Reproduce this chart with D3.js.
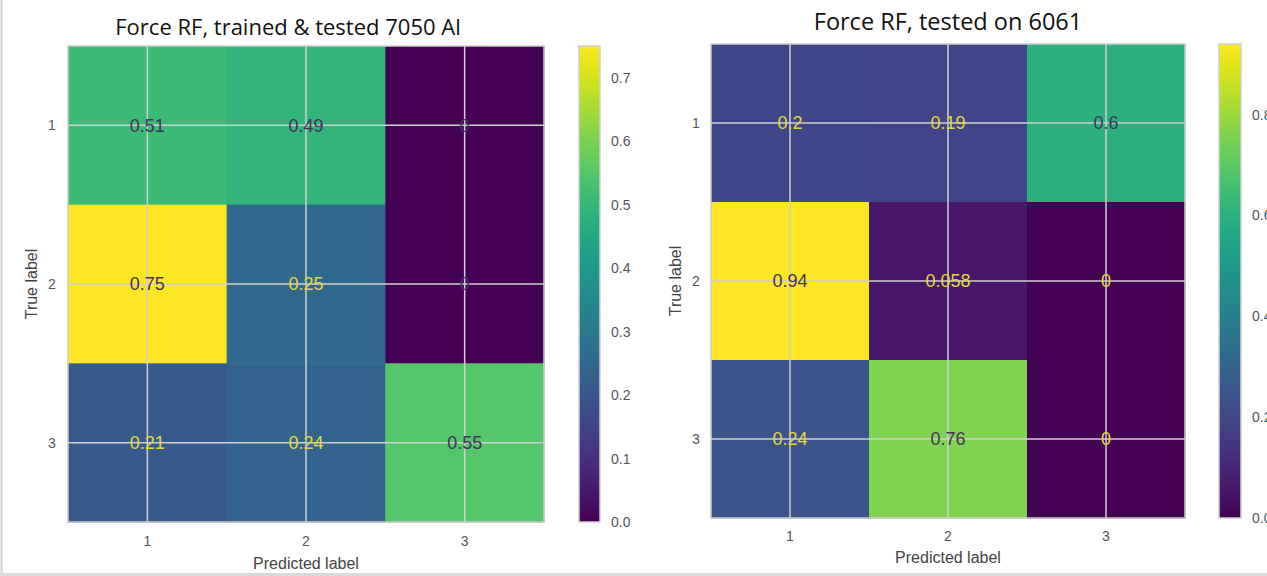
<!DOCTYPE html>
<html>
<head>
<meta charset="utf-8">
<script src="https://cdn.jsdelivr.net/npm/d3@7"></script>
<style>
  html, body { margin: 0; padding: 0; background: #fff; }
  svg { display: block; }
</style>
</head>
<body>
<svg id="chart" width="1267" height="576"></svg>
<script>
// Class labels shared by both confusion matrices
const classLabels = ["1", "2", "3"];

// Row-normalised confusion matrix: model trained & tested on 7050 Al
const matrix7050 = [
  [0.51, 0.49, 0],
  [0.75, 0.25, 0],
  [0.21, 0.24, 0.55]
];
const labels7050 = [
  ["0.51", "0.49", "0"],
  ["0.75", "0.25", "0"],
  ["0.21", "0.24", "0.55"]
];
const colorbarTicks7050 = [0.0, 0.1, 0.2, 0.3, 0.4, 0.5, 0.6, 0.7];

// Same model evaluated on 6061
const matrix6061 = [
  [0.2, 0.19, 0.6],
  [0.94, 0.058, 0],
  [0.24, 0.76, 0]
];
const labels6061 = [
  ["0.2", "0.19", "0.6"],
  ["0.94", "0.058", "0"],
  ["0.24", "0.76", "0"]
];
const colorbarTicks6061 = [0.0, 0.2, 0.4, 0.6, 0.8];

const titles = ["Force RF, trained & tested 7050 Al", "Force RF, tested on 6061"];

const svg = d3.select("#chart");
const FONT = "'Liberation Sans', Arial, sans-serif";
const TITLE_FONT = "'Open Sans', 'Noto Sans', sans-serif";
const DARK_TEXT = "#46305e";
const LIGHT_TEXT = "#e3d83a";

// outer frame of the figure
svg.append("rect").attr("x", 0).attr("y", 0).attr("width", 1267).attr("height", 576).attr("fill", "#fff");
svg.append("line").attr("x1", 1.5).attr("x2", 1.5).attr("y1", 0).attr("y2", 576)
  .attr("stroke", "#d2d2d2").attr("stroke-width", 2);
svg.append("rect").attr("x", 0).attr("y", 573).attr("width", 1267).attr("height", 3).attr("fill", "#d9d9d9");

let gradId = 0;

function drawPanel(cfg) {
  const { matrix, labels, ticks, title, titleSize, titleX, x0, y0, size, cbX, cbW, titleY, xTickY, xLabelY, yTickX, yLabelX, darkZeros } = cfg;
  const g = svg.append("g");
  const vmax = d3.max(matrix.flat());
  const vmin = d3.min(matrix.flat());
  const color = d3.scaleSequential(d3.interpolateViridis).domain([vmin, vmax]);
  const thresh = (vmax + vmin) / 2;

  const x = d3.scaleBand().domain(classLabels).range([x0, x0 + size]);
  const y = d3.scaleBand().domain(classLabels).range([y0, y0 + size]);

  // cells
  const cells = [];
  matrix.forEach((row, i) => row.forEach((v, j) => cells.push({ i, j, v, text: labels[i][j] })));
  g.selectAll("rect.cell").data(cells).join("rect")
    .attr("class", "cell")
    .attr("x", d => x(classLabels[d.j]))
    .attr("y", d => y(classLabels[d.i]))
    .attr("width", x.bandwidth() + 0.5)
    .attr("height", y.bandwidth() + 0.5)
    .attr("fill", d => color(d.v));

  // grid lines through the tick positions
  const grid = g.append("g").attr("stroke", "#cfcfcf").attr("stroke-width", 1.5);
  classLabels.forEach(c => {
    const cx = x(c) + x.bandwidth() / 2;
    const cy = y(c) + y.bandwidth() / 2;
    grid.append("line").attr("x1", cx).attr("x2", cx).attr("y1", y0).attr("y2", y0 + size);
    grid.append("line").attr("x1", x0).attr("x2", x0 + size).attr("y1", cy).attr("y2", cy);
  });

  // frame
  g.append("rect").attr("x", x0).attr("y", y0).attr("width", size).attr("height", size)
    .attr("fill", "none").attr("stroke", "#cccccc").attr("stroke-width", 1.5);

  // value annotations
  g.selectAll("text.val").data(cells).join("text")
    .attr("class", "val")
    .attr("x", d => x(classLabels[d.j]) + x.bandwidth() / 2)
    .attr("y", d => y(classLabels[d.i]) + y.bandwidth() / 2)
    .attr("dy", "0.35em")
    .attr("text-anchor", "middle")
    .attr("font-family", FONT)
    .attr("font-size", 18)
    .attr("fill", d => (d.v >= thresh || (darkZeros && d.v === 0)) ? DARK_TEXT : LIGHT_TEXT)
    .text(d => d.text);

  // axes (tick labels only)
  const xAxis = g.append("g").attr("transform", `translate(0,${xTickY})`)
    .call(d3.axisBottom(x).tickSize(0).tickPadding(0));
  xAxis.select(".domain").remove();
  xAxis.selectAll("text").attr("font-family", FONT).attr("font-size", 14).attr("fill", "#555").attr("dy", "0.35em");

  const yAxis = g.append("g").attr("transform", `translate(${yTickX},0)`)
    .call(d3.axisLeft(y).tickSize(0).tickPadding(0));
  yAxis.select(".domain").remove();
  yAxis.selectAll("text").attr("font-family", FONT).attr("font-size", 14).attr("fill", "#555")
    .attr("text-anchor", "middle").attr("dy", "0.35em");

  g.append("text").attr("x", x0 + size / 2).attr("y", xLabelY).attr("dy", "0.35em")
    .attr("text-anchor", "middle").attr("font-family", FONT).attr("font-size", 16).attr("fill", "#444")
    .text("Predicted label");
  g.append("text").attr("transform", `translate(${yLabelX},${y0 + size / 2}) rotate(-90)`).attr("dy", "0.35em")
    .attr("text-anchor", "middle").attr("font-family", FONT).attr("font-size", 16).attr("fill", "#444")
    .text("True label");

  g.append("text").attr("x", titleX).attr("y", titleY).attr("dy", "0.35em")
    .attr("text-anchor", "middle").attr("font-family", TITLE_FONT).attr("font-size", titleSize).attr("fill", "#111")
    .text(title);

  // colour bar
  const id = "cb" + (gradId++);
  const grad = svg.append("defs").append("linearGradient").attr("id", id)
    .attr("x1", 0).attr("x2", 0).attr("y1", 1).attr("y2", 0);
  d3.range(0, 1.0001, 0.05).forEach(t => {
    grad.append("stop").attr("offset", t).attr("stop-color", d3.interpolateViridis(t));
  });
  g.append("rect").attr("x", cbX).attr("y", y0).attr("width", cbW).attr("height", size)
    .attr("fill", `url(#${id})`).attr("stroke", "#d0d0d0").attr("stroke-width", 1.5);
  const cbScale = d3.scaleLinear().domain([vmin, vmax]).range([y0 + size, y0]);
  const cbAxis = g.append("g").attr("transform", `translate(${cbX + cbW},0)`)
    .call(d3.axisRight(cbScale).tickValues(ticks).tickFormat(d3.format(".1f")).tickSize(0).tickPadding(11));
  cbAxis.select(".domain").remove();
  cbAxis.selectAll("text").attr("font-family", FONT).attr("font-size", 14).attr("fill", "#555");
}

drawPanel({
  matrix: matrix7050, labels: labels7050, ticks: colorbarTicks7050, title: titles[0], titleSize: 22, titleX: 288,
  x0: 68, y0: 46, size: 476, cbX: 579, cbW: 21,
  titleY: 27, xTickY: 541, xLabelY: 563, yTickX: 52, yLabelX: 31, darkZeros: true
});

drawPanel({
  matrix: matrix6061, labels: labels6061, ticks: colorbarTicks6061, title: titles[1], titleSize: 23.5, titleX: 948,
  x0: 711, y0: 44, size: 474, cbX: 1219, cbW: 22,
  titleY: 22, xTickY: 536, xLabelY: 557, yTickX: 696, yLabelX: 675, darkZeros: false
});
</script>
</body>
</html>
